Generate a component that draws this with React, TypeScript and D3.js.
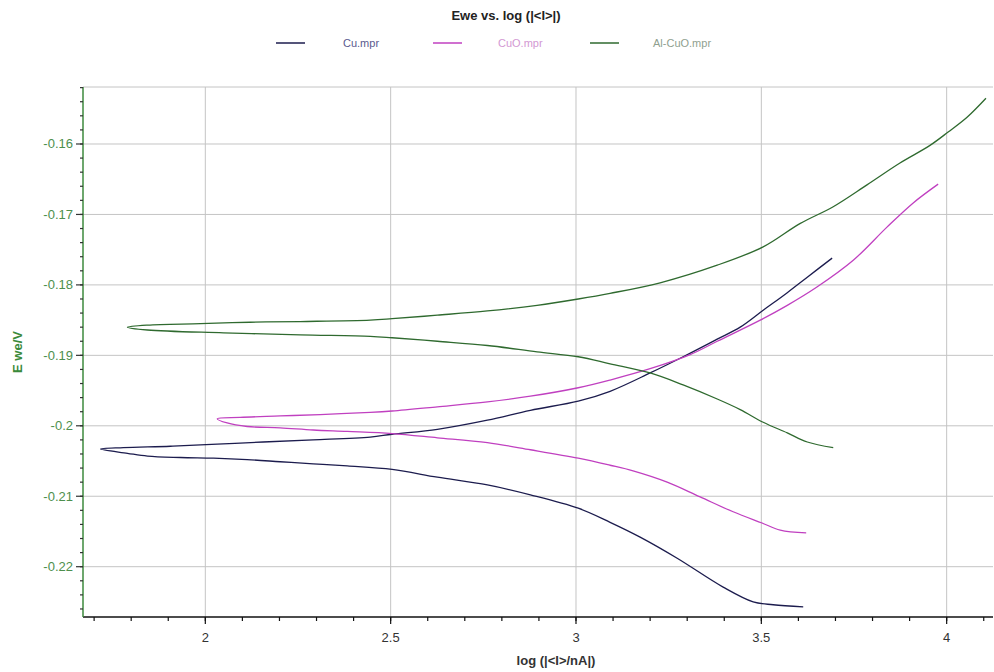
import React from "react";
import * as d3 from "d3";

const seriesNames = ["Cu.mpr", "CuO.mpr", "Al-CuO.mpr"];
const seriesColors = ["#1c1c4e", "#c040c0", "#2f6a2f"];
const legendTextColors = ["#5a5a8e", "#d398d3", "#8fa08f"];

// Cu: anodic (upper) and cathodic (lower) branches
const cuUpperX = [1.717, 1.779, 1.906, 2.032, 2.156, 2.291, 2.445, 2.504, 2.626, 2.761, 2.877, 3.006, 3.092, 3.2, 3.289, 3.381, 3.443, 3.505, 3.57, 3.624, 3.691];
const cuUpperY = [-0.2033, -0.2031, -0.2029, -0.2026, -0.2023, -0.202, -0.2016, -0.2012, -0.2005, -0.1992, -0.1978, -0.1965, -0.1951, -0.1925, -0.1902, -0.1877, -0.186, -0.1836, -0.1811, -0.1789, -0.1762];
const cuLowerX = [1.717, 1.79, 1.844, 1.933, 2.022, 2.113, 2.202, 2.291, 2.383, 2.504, 2.626, 2.761, 2.877, 3.006, 3.092, 3.173, 3.273, 3.397, 3.478, 3.532, 3.613];
const cuLowerY = [-0.2033, -0.2039, -0.2043, -0.2045, -0.2046, -0.2048, -0.2051, -0.2054, -0.2057, -0.2062, -0.2073, -0.2084, -0.2098, -0.2117, -0.2137, -0.2158, -0.2188, -0.2229, -0.225, -0.2254, -0.2257];

// CuO
const cuoUpperX = [2.032, 2.094, 2.202, 2.31, 2.445, 2.504, 2.626, 2.761, 2.877, 3.006, 3.092, 3.2, 3.308, 3.381, 3.497, 3.57, 3.65, 3.748, 3.839, 3.909, 3.977];
const cuoUpperY = [-0.199, -0.1988, -0.1986, -0.1984, -0.1981, -0.1979, -0.1973, -0.1966, -0.1958, -0.1946, -0.1935, -0.1919, -0.1899, -0.1880, -0.185, -0.1829, -0.1803, -0.1765, -0.1718, -0.1684, -0.1657];
const cuoLowerX = [2.032, 2.059, 2.113, 2.202, 2.291, 2.383, 2.504, 2.626, 2.761, 2.877, 3.006, 3.092, 3.154, 3.246, 3.335, 3.424, 3.502, 3.551, 3.621];
const cuoLowerY = [-0.199, -0.1996, -0.2001, -0.2003, -0.2006, -0.2008, -0.2011, -0.2017, -0.2024, -0.2034, -0.2046, -0.2056, -0.2064, -0.208, -0.2101, -0.2122, -0.2138, -0.2148, -0.2152];

// Al-CuO
const alUpperX = [1.79, 1.844, 1.987, 2.121, 2.256, 2.445, 2.504, 2.626, 2.761, 2.895, 3.006, 3.092, 3.227, 3.381, 3.505, 3.604, 3.694, 3.785, 3.874, 3.955, 4.004, 4.055, 4.106];
const alUpperY = [-0.186, -0.1857, -0.1855, -0.1853, -0.1852, -0.185, -0.1848, -0.1843, -0.1837, -0.1829, -0.182, -0.1812, -0.1797, -0.1772, -0.1746, -0.1713, -0.1689, -0.1658, -0.1627, -0.1602, -0.1583, -0.1562, -0.1535];
const alLowerX = [1.79, 1.844, 2.049, 2.256, 2.445, 2.504, 2.626, 2.761, 2.895, 3.006, 3.092, 3.2, 3.289, 3.381, 3.443, 3.505, 3.57, 3.624, 3.694];
const alLowerY = [-0.186, -0.1864, -0.1868, -0.1871, -0.1873, -0.1875, -0.188, -0.1886, -0.1895, -0.1902, -0.1912, -0.1925, -0.1942, -0.1962, -0.1977, -0.1995, -0.201, -0.2023, -0.2031];

const xMajorTicks = [2, 2.5, 3, 3.5, 4];
const xTickLabels = ["2", "2.5", "3", "3.5", "4"];
const yMajorTicks = [-0.16, -0.17, -0.18, -0.19, -0.2, -0.21, -0.22];
const yTickLabels = ["-0.16", "-0.17", "-0.18", "-0.19", "-0.2", "-0.21", "-0.22"];

const W = 994;
const H = 672;
const left = 83;
const right = 993;
const top = 87;
const bottom = 617;

export default function App() {
  const x = d3.scaleLinear().domain([1.67, 4.125]).range([left, right]);
  const y = d3.scaleLinear().domain([-0.22714, -0.15191]).range([bottom, top]);

  const build = (ux: number[], uy: number[], lx: number[], ly: number[]) => {
    const pts: [number, number][] = [];
    for (let i = lx.length - 1; i >= 0; i--) pts.push([lx[i], ly[i]]);
    for (let i = 1; i < ux.length; i++) pts.push([ux[i], uy[i]]);
    return pts;
  };
  const series = [
    build(cuUpperX, cuUpperY, cuLowerX, cuLowerY),
    build(cuoUpperX, cuoUpperY, cuoLowerX, cuoLowerY),
    build(alUpperX, alUpperY, alLowerX, alLowerY),
  ];
  const line = d3
    .line<[number, number]>()
    .x((d) => x(d[0]))
    .y((d) => y(d[1]))
    .curve(d3.curveCatmullRom.alpha(0.5));

  const xMinor = d3.range(17, 42).map((v) => v / 10);
  const yMinor = d3.range(-226, -151, 2).map((v) => v / 1000);

  const font = "'Liberation Sans', Arial, sans-serif";
  const axisGreen = "#3d8a3d";
  const legendLineX = [276, 433, 590];
  const legendTextX = [343, 498, 653];

  return (
    <svg
      width={W}
      height={H}
      style={{ position: "absolute", left: 0, top: 0, background: "#fff" }}
      fontFamily={font}
    >
      <rect x={0} y={0} width={W} height={H} fill="#fff" />
      {/* title */}
      <text x={506} y={20} textAnchor="middle" fontSize={13} fontWeight="bold" fill="#222">
        Ewe vs. log (|&lt;I&gt;|)
      </text>
      {/* legend */}
      {seriesNames.map((n, i) => (
        <g key={n}>
          <line x1={legendLineX[i]} x2={legendLineX[i] + 29} y1={43} y2={43} stroke={seriesColors[i]} strokeWidth={1.5} />
          <text x={legendTextX[i]} y={47} fontSize={11} fill={legendTextColors[i]}>
            {n}
          </text>
        </g>
      ))}
      {/* grid */}
      {xMajorTicks.map((t) => (
        <line key={"gx" + t} x1={x(t)} x2={x(t)} y1={top} y2={bottom} stroke="#c4c4c4" strokeWidth={1} />
      ))}
      {yMajorTicks.map((t) => (
        <line key={"gy" + t} x1={left} x2={right} y1={y(t)} y2={y(t)} stroke="#c4c4c4" strokeWidth={1} />
      ))}
      <line x1={left} x2={right} y1={top} y2={top} stroke="#c4c4c4" strokeWidth={1} />
      {/* curves */}
      {series.map((pts, i) => (
        <path key={i} d={line(pts) || ""} fill="none" stroke={seriesColors[i]} strokeWidth={1.3} />
      ))}
      {/* x axis */}
      <line x1={left} x2={right} y1={bottom} y2={bottom} stroke="#111" strokeWidth={1.5} />
      {xMinor.map((t) => (
        <line key={"xm" + t} x1={x(t)} x2={x(t)} y1={bottom} y2={bottom + 4} stroke="#111" strokeWidth={1.2} />
      ))}
      {xMajorTicks.map((t, i) => (
        <g key={"xt" + t}>
          <line x1={x(t)} x2={x(t)} y1={bottom} y2={bottom + 7} stroke="#111" strokeWidth={1.2} />
          <text x={x(t)} y={642} textAnchor="middle" fontSize={13} fill="#333">
            {xTickLabels[i]}
          </text>
        </g>
      ))}
      <text x={556} y={665} textAnchor="middle" fontSize={13} fontWeight="bold" fill="#333">
        log (|&lt;I&gt;/nA|)
      </text>
      {/* y axis */}
      <line x1={left} x2={left} y1={top} y2={bottom} stroke={axisGreen} strokeWidth={1.5} />
      {yMinor.map((t) => (
        <line key={"ym" + t} x1={left - 3} x2={left} y1={y(t)} y2={y(t)} stroke="#333" strokeWidth={1.2} />
      ))}
      {yMajorTicks.map((t, i) => (
        <g key={"yt" + t}>
          <line x1={left - 7} x2={left} y1={y(t)} y2={y(t)} stroke="#333" strokeWidth={1.2} />
          <text x={73} y={y(t) + 4.5} textAnchor="end" fontSize={13} fill="#4d8f4d">
            {yTickLabels[i]}
          </text>
        </g>
      ))}
      <text
        transform={`translate(22, 352) rotate(-90)`}
        textAnchor="middle"
        fontSize={13}
        fontWeight="bold"
        fill="#3a8a3a"
      >
        E we/V
      </text>
    </svg>
  );
}
